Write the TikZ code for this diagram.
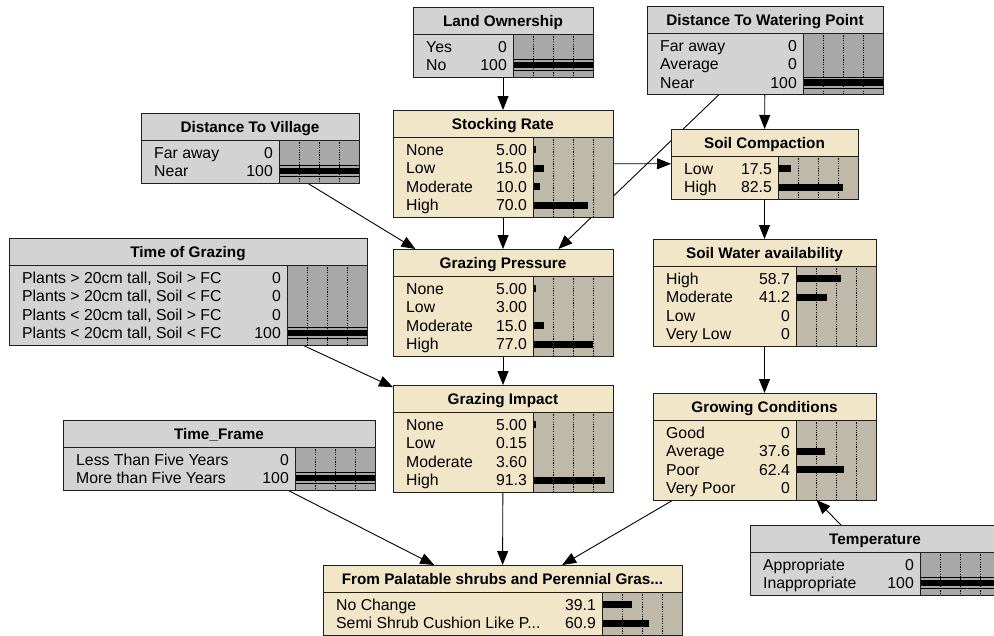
\documentclass[tikz,border=0pt]{standalone}
\usepackage{fontspec}
\setmainfont{Liberation Sans}
\usetikzlibrary{arrows.meta,backgrounds}

\definecolor{grayfill}{RGB}{211,211,211}
\definecolor{graybar}{RGB}{168,168,168}
\definecolor{tanfill}{RGB}{242,230,201}
\definecolor{tanbar}{RGB}{190,185,168}
\definecolor{frame}{RGB}{30,30,30}

\tikzset{
  nodebox/.style={draw=frame, line width=0.9pt, inner sep=0pt, outer sep=0pt},
  nodeline/.style={draw=frame, line width=0.9pt},
  gridline/.style={draw=black, line width=0.7pt, dash pattern=on 1.2pt off 1.2pt},
  titletext/.style={inner sep=0pt, anchor=base, font=\fontsize{15.3}{18}\selectfont\bfseries},
  rowtext/.style={inner sep=0pt, font=\fontsize{15.8}{18}\selectfont},
  link/.style={draw=black, line width=0.9pt, -{Triangle[length=14pt,width=11pt]}},
}

% truncation mark for long state names (kept out of \foreach's range syntax)
\newcommand\cutmark{...}

% A belief-network node: #1 name, #2 left, #3 top, #4 right,
% #5 colour scheme (gray = observed, tan = computed), #6 number of states,
% #7 title, #8 states as label/value/percent
\newif\iffinding
\newcommand\netnode[8]{%
  \pgfmathsetmacro\nL{#2}\pgfmathsetmacro\nT{#3}\pgfmathsetmacro\nR{#4}%
  \pgfmathsetmacro\nB{#3+33+18.5*#6}%
  \pgfmathsetmacro\nTb{#3+27}%
  \pgfmathsetmacro\nX{#4-80}%
  \pgfmathsetmacro\nW{#4-#2}%
  \pgfmathsetmacro\nH{\nB-#3}%
  \def\tmpkind{#5}\def\tmpgray{gray}%
  \ifx\tmpkind\tmpgray\findingtrue\else\findingfalse\fi
  \node[nodebox, fill=#5fill, minimum width=\nW pt, minimum height=\nH pt,
        anchor=north west] (#1) at (\nL,\nT) {};
  \fill[#5bar] (\nX,\nTb) rectangle (\nR,\nB);
  \foreach \k in {20,40,60} \draw[gridline] (\nX+\k,\nTb) -- (\nX+\k,\nB);
  \node[titletext] at ({(\nL+\nR)/2},\nT+19) {#7};
  \foreach \lab/\val/\pc [count=\i] in {#8} {%
    \pgfmathsetmacro\ry{\nTb+12.5+(\i-1)*18.5}%
    \node[rowtext, anchor=base west] at (\nL+13,\ry+5.5) {\lab};
    \node[rowtext, anchor=base east] at (\nX-6,\ry+5.5) {\val};
    \ifdim\pc pt>0pt
      \iffinding
        \fill[black] (\nX,\ry-3.2) rectangle (\nR,\ry+3.2);
        \draw[black, line width=0.8pt] (\nX,\ry-5.4) -- (\nR,\ry-5.4)
                                       (\nX,\ry+5.4) -- (\nR,\ry+5.4);
      \else
        \pgfmathsetmacro\bw{max(\pc*0.8-1.5,0)}%
        \fill[black] (\nX,\ry-3.5) rectangle (\nX+\bw,\ry+3.5);
      \fi
    \fi
  }
  \draw[nodeline] (\nL,\nTb) -- (\nR,\nTb);
  \draw[nodeline] (\nX,\nTb) -- (\nX,\nB);
  \draw[nodeline] (\nL,\nT) rectangle (\nR,\nB);
}

\begin{document}
\begin{tikzpicture}[x=1pt, y=-1pt]
\useasboundingbox (0,0) rectangle (994,635);

\netnode{lo}{413}{7}{593}{gray}{2}{Land Ownership}
  {Yes/0/0, No/100/100}
\netnode{dtwp}{647}{6}{883}{gray}{3}{Distance To Watering Point}
  {Far away/0/0, Average/0/0, Near/100/100}
\netnode{dtv}{141}{113}{359}{gray}{2}{Distance To Village}
  {Far away/0/0, Near/100/100}
\netnode{sr}{393}{110}{613}{tan}{4}{Stocking Rate}
  {None/5.00/5, Low/15.0/15, Moderate/10.0/10, High/70.0/70}
\netnode{sc}{671}{129}{858}{tan}{2}{Soil Compaction}
  {Low/17.5/17.5, High/82.5/82.5}
\netnode{tog}{9}{238}{367}{gray}{4}{Time of Grazing}
  {{Plants > 20cm tall, Soil > FC}/0/0, {Plants > 20cm tall, Soil < FC}/0/0,
   {Plants < 20cm tall, Soil > FC}/0/0, {Plants < 20cm tall, Soil < FC}/100/100}
\netnode{gp}{393}{249}{613}{tan}{4}{Grazing Pressure}
  {None/5.00/5, Low/3.00/3, Moderate/15.0/15, High/77.0/77}
\netnode{swa}{653}{239}{876}{tan}{4}{Soil Water availability}
  {High/58.7/58.7, Moderate/41.2/41.2, Low/0/0, Very Low/0/0}
\netnode{gi}{393}{385}{613}{tan}{4}{Grazing Impact}
  {None/5.00/5, Low/0.15/0.15, Moderate/3.60/3.6, High/91.3/91.3}
\netnode{tf}{63}{420}{375}{gray}{2}{Time\_Frame}
  {Less Than Five Years/0/0, More than Five Years/100/100}
\netnode{gc}{653}{393}{876}{tan}{4}{Growing Conditions}
  {Good/0/0, Average/37.6/37.6, Poor/62.4/62.4, Very Poor/0/0}
\netnode{temp}{750}{525}{1000}{gray}{2}{Temperature}
  {Appropriate/0/0, Inappropriate/100/100}
\netnode{out}{323}{565}{682}{tan}{2}{From Palatable shrubs and Perennial Gras\cutmark}
  {No Change/39.1/39.1, Semi Shrub Cushion Like P\cutmark/60.9/60.9}

\begin{pgfonlayer}{background}
  \fill[white] (0,0) rectangle (994,635);
  \draw[link] (lo) -- (sr);
  \draw[link] (dtwp) -- (sc);
  \draw[link] (dtwp) -- (gp);
  \draw[link] (sr) -- (sc);
  \draw[link] (sr) -- (gp);
  \draw[link] (dtv) -- (gp);
  \draw[link] (sc) -- (swa);
  \draw[link] (swa) -- (gc);
  \draw[link] (tog) -- (gi);
  \draw[link] (gp) -- (gi);
  \draw[link] (gi) -- (out);
  \draw[link] (tf) -- (out);
  \draw[link] (gc) -- (out);
  \draw[link] (temp) -- (gc);
\end{pgfonlayer}
\end{tikzpicture}
\end{document}
